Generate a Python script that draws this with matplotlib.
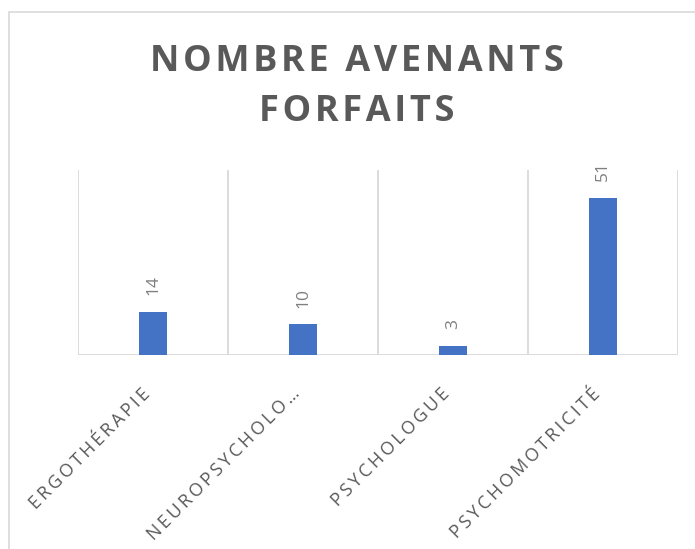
import matplotlib.pyplot as plt
from matplotlib.patches import Rectangle
from matplotlib.transforms import ScaledTranslation

categories = ["ERGOTHÉRAPIE", "NEUROPSYCHOLO…", "PSYCHOLOGUE", "PSYCHOMOTRICITÉ"]
values = [14, 10, 3, 51]
title_lines = ["NOMBRE AVENANTS", "FORFAITS"]

BAR_COLOR = "#4472C4"
TEXT_COLOR = "#595959"
GRID_COLOR = "#D9D9D9"


def spaced(text, sep="\u2009"):
    # mimic Excel's character spacing
    return sep.join(text)


fig = plt.figure(figsize=(6.95, 5.49), dpi=100)
ax = fig.add_axes([78 / 695, 1 - 355 / 549, 600 / 695, 185 / 549])

# chart border (cut off at right and bottom like the source)
fig.patches.append(Rectangle((9 / 695, -0.05), 1.1, 1 - 12 / 549 + 0.05,
                             transform=fig.transFigure, fill=False,
                             edgecolor=GRID_COLOR, linewidth=1.2))

x = range(len(categories))
bars = ax.bar(x, values, width=0.185, color=BAR_COLOR, zorder=3)

ax.set_xlim(-0.5, len(categories) - 0.5)
ax.set_ylim(0, 60)

# vertical gridlines between categories
for b in range(len(categories) + 1):
    ax.axvline(b - 0.5, color=GRID_COLOR, linewidth=1.3, zorder=1)
ax.axhline(0, color=GRID_COLOR, linewidth=1.3, zorder=2)

for spine in ax.spines.values():
    spine.set_visible(False)
ax.set_yticks([])
ax.set_xticks(list(x))
ax.set_xticklabels([spaced(c) for c in categories], rotation=45, ha="right",
                   va="center", rotation_mode="anchor", fontsize=13,
                   color=TEXT_COLOR, family="Open Sans")
ax.tick_params(axis="x", length=0, pad=26)
shift = ScaledTranslation(-6 / 100, 0, fig.dpi_scale_trans)
for lbl in ax.get_xticklabels():
    lbl.set_transform(lbl.get_transform() + shift)

for bar, v in zip(bars, values):
    ax.annotate(str(v), (bar.get_x() + bar.get_width() / 2, v),
                xytext=(0, 12), textcoords="offset points", rotation=90,
                ha="center", va="bottom", fontsize=12.5, color="#7F7F7F",
                family="Open Sans")

fig.text(357 / 695, 1 - 87 / 549,
         "\n".join(spaced(t, "\u200a") for t in title_lines),
         ha="center", va="center", fontsize=26, fontweight="bold",
         color=TEXT_COLOR, family="Open Sans", linespacing=1.5)

fig.savefig("out.png", dpi=100)
